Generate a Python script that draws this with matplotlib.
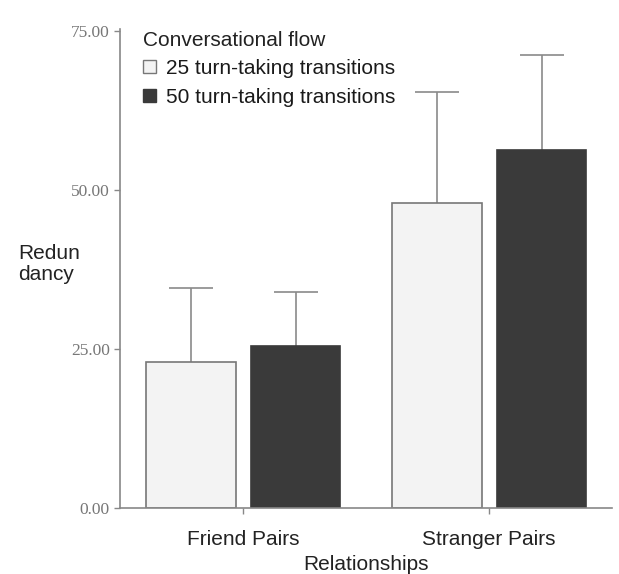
import numpy as np
import matplotlib
matplotlib.use("Agg")
from matplotlib import pyplot as plt
from matplotlib.patches import Patch

groups = ["Friend Pairs", "Stranger Pairs"]
series = ["25 turn-taking transitions", "50 turn-taking transitions"]
means_25 = [23.0, 47.9]
means_50 = [25.5, 56.2]
err_25 = [11.6, 17.5]
err_50 = [8.4, 14.9]
yticks = [0, 25, 50, 75]

plt.rcParams['font.family'] = ['Liberation Sans', 'DejaVu Sans']

fig = plt.figure(figsize=(6.19, 5.74), dpi=100)
ax = fig.add_axes([0.194, 0.115, 0.795, 0.835])

x = np.arange(len(groups))
w = 0.365
off = 0.213
ax.bar(x - off, means_25, w, color='#f3f3f3', edgecolor='#777777', linewidth=1.2, zorder=2)
ax.bar(x + off, means_50, w, color='#3a3a3a', edgecolor='#3a3a3a', linewidth=1.2, zorder=2)
# upper error bars only
for xs, m, e in [(x - off, means_25, err_25), (x + off, means_50, err_50)]:
    eb = ax.errorbar(xs, m, yerr=[np.zeros(len(m)), e], fmt='none', ecolor='#8a8a8a',
                     elinewidth=1.2, capsize=15.5, capthick=1.2, zorder=1)
    eb[1][0].set_visible(False)

ax.set_xlim(-0.5, 1.5)
ax.set_ylim(0, 75.3)
ax.set_yticks(yticks)
ax.set_yticklabels(["%.2f" % v for v in yticks], family='Liberation Serif',
                   fontsize=12.5, color='#777777')
ax.set_xticks(x)
ax.set_xticklabels(groups, fontsize=15, color='#222222')
ax.tick_params(axis='both', colors='#888888', length=4, width=1)
ax.tick_params(axis='x', labelcolor='#222222', pad=12)
ax.tick_params(axis='y', labelcolor='#777777')
for s in ['top', 'right']:
    ax.spines[s].set_visible(False)
for s in ['left', 'bottom']:
    ax.spines[s].set_color('#888888')
    ax.spines[s].set_linewidth(1.2)

ax.set_xlabel("Relationships", fontsize=15, color='#222222', labelpad=4)
fig.text(0.03, 0.54, "Redun\ndancy", fontsize=15, color='#222222',
         ha='left', va='center', linespacing=1.15)

handles = [Patch(facecolor='#f3f3f3', edgecolor='#777777'),
           Patch(facecolor='#3a3a3a', edgecolor='#3a3a3a')]
leg = ax.legend(handles, series, title="Conversational flow", loc='upper left',
                bbox_to_anchor=(0.03, 1.013), frameon=False, fontsize=15,
                title_fontsize=15, handlelength=0.6, handleheight=0.6,
                handletextpad=0.5, borderaxespad=0.0, labelspacing=0.45)
leg._legend_box.align = "left"
for t in leg.get_texts():
    t.set_color('#1a1a1a')
leg.get_title().set_color('#222222')

fig.savefig("out.png", dpi=100)
